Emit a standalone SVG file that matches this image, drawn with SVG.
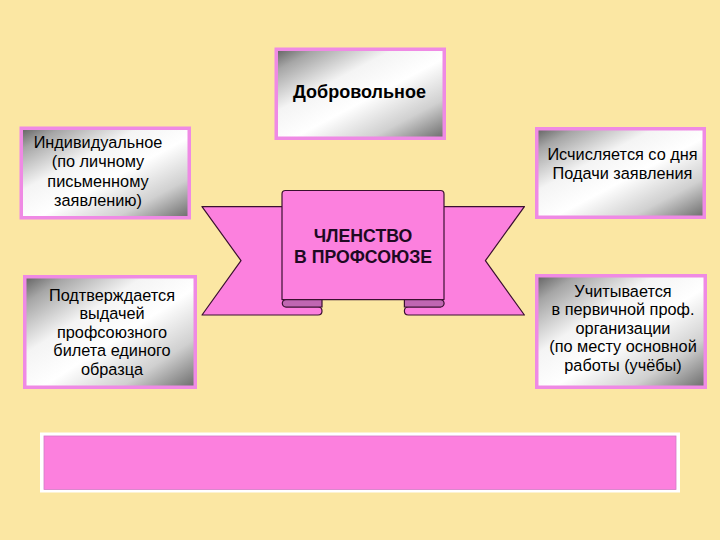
<svg xmlns="http://www.w3.org/2000/svg" width="720" height="540" viewBox="0 0 720 540">
<defs>
<linearGradient id="metal" x1="0" y1="0" x2="1" y2="1">
<stop offset="0" stop-color="#606060"/>
<stop offset="0.12" stop-color="#a6a6a6"/>
<stop offset="0.35" stop-color="#f4f4f4"/>
<stop offset="0.55" stop-color="#ffffff"/>
<stop offset="0.78" stop-color="#d0d0d0"/>
<stop offset="1" stop-color="#6a6a6a"/>
</linearGradient>
</defs>
<style>
.box{fill:url(#metal);stroke:#ef8ae4;stroke-width:3.5}
.t{font-family:"Liberation Sans",Arial,sans-serif;font-size:16.3px;fill:#000;text-anchor:middle}
.tb{font-family:"Liberation Sans",Arial,sans-serif;font-size:18px;font-weight:bold;fill:#000;text-anchor:middle}
.rb{fill:#fc80de;stroke:#3a1030;stroke-width:1.2;stroke-linejoin:round}
.curl{fill:#c066b2;stroke:#3a1030;stroke-width:1.2}
.rt{font-family:"Liberation Sans",Arial,sans-serif;font-size:17.7px;font-weight:bold;fill:#1e0a22;text-anchor:middle}
</style>
<rect width="720" height="540" fill="#fbe7a3"/>

<g id="connectors"></g>

<g id="n-dobrovolnoe">
<rect class="box" x="276.25" y="49.25" width="168" height="89"/>
<text class="tb" x="359.5" y="98">Добровольное</text>
</g>

<g id="n-individualnoe">
<rect class="box" x="21.25" y="128.25" width="168" height="89.5"/>
<text class="t" x="98" y="148">Индивидуальное</text>
<text class="t" x="98" y="167.3">(по личному</text>
<text class="t" x="98" y="186.6">письменному</text>
<text class="t" x="98" y="206">заявлению)</text>
</g>

<g id="n-ischislyaetsya">
<rect class="box" x="536.75" y="128.75" width="167.5" height="88.5"/>
<text class="t" x="622.5" y="159.5">Исчисляется со дня</text>
<text class="t" x="622.5" y="179">Подачи заявления</text>
</g>

<g id="n-podtverzhdaetsya">
<rect class="box" x="24.75" y="276.75" width="170.5" height="110.5"/>
<text class="t" x="112" y="300.5">Подтверждается</text>
<text class="t" x="112" y="319">выдачей</text>
<text class="t" x="112" y="337.5">профсоюзного</text>
<text class="t" x="112" y="356">билета единого</text>
<text class="t" x="112" y="374.5">образца</text>
</g>

<g id="n-uchityvaetsya">
<rect class="box" x="536.75" y="275.75" width="168.5" height="111.5"/>
<text class="t" x="623" y="296.5">Учитывается</text>
<text class="t" x="623" y="315">в первичной проф.</text>
<text class="t" x="623" y="333.5">организации</text>
<text class="t" x="623" y="352">(по месту основной</text>
<text class="t" x="623" y="370.5">работы (учёбы)</text>
</g>

<g id="n-chlenstvo">
<path class="rb" d="M202,206.6 L286,206.6 L286,307 L318,307 Q322,307 322,311 Q322,315 318,315 L202,315 L241,260.7 Z"/>
<path class="rb" d="M524.4,206.6 L440.4,206.6 L440.4,307 L408.4,307 Q404.4,307 404.4,311 Q404.4,315 408.4,315 L524.4,315 L485.4,260.7 Z"/>
<path class="rb" d="M282,194 Q282,190.5 285.5,190.5 L440.5,190.5 Q444,190.5 444,194 L444,299.6 L282,299.6 Z"/>
<path class="curl" d="M322,299.6 L286,299.6 A3.7,3.7 0 0 0 286,307 L322,307 Z"/>
<path class="curl" d="M404.4,299.6 L440.4,299.6 A3.7,3.7 0 0 1 440.4,307 L404.4,307 Z"/>
<text class="rt" x="363" y="241.5">ЧЛЕНСТВО</text>
<text class="rt" x="363" y="262.5">В ПРОФСОЮЗЕ</text>
</g>

<g id="n-bar">
<rect x="40" y="432.5" width="640" height="60" fill="#ffffff"/>
<rect x="44" y="436" width="632" height="53.5" fill="#fc80de" stroke="#d27ac6" stroke-width="0.8"/>
</g>
</svg>
